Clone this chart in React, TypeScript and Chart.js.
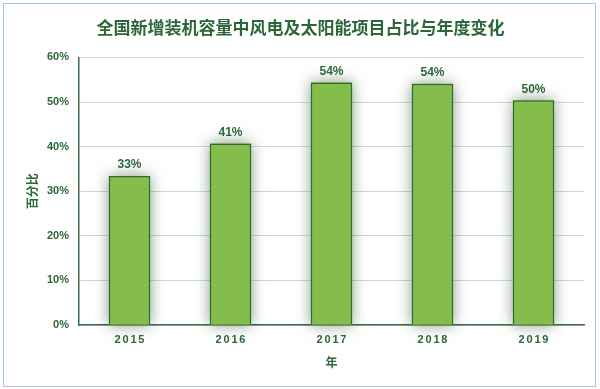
import React, { useEffect, useRef } from "react";
import { Chart, registerables } from "chart.js";

Chart.register(...registerables);

const TITLE = "全国新增装机容量中风电及太阳能项目占比与年度变化";
const YEARS = ["2015", "2016", "2017", "2018", "2019"];
const SHARES = [33.4, 40.7, 54.4, 54.1, 50.4];
const Y_TICKS_MAX = 60;
const Y_TITLE = "百分比";
const X_TITLE = "年";

const TEXT = "#2c6639";
const BAR = "#84bd4b";
const FONT = "'Liberation Sans', 'Noto Sans CJK SC', sans-serif";

const customPlugin = {
  id: "custom",
  beforeDatasetsDraw(chart: any) {
    const ctx = chart.ctx;
    const meta = chart.getDatasetMeta(0);
    ctx.save();
    ctx.shadowColor = "rgba(30,70,30,0.55)";
    ctx.shadowBlur = 14;
    ctx.shadowOffsetX = 0;
    ctx.shadowOffsetY = 0;
    ctx.fillStyle = BAR;
    meta.data.forEach((bar: any) => {
      const w = bar.width;
      ctx.fillRect(bar.x - w / 2, bar.y, w, bar.base - bar.y);
    });
    ctx.restore();
  },
  afterDatasetsDraw(chart: any) {
    const ctx = chart.ctx;
    const meta = chart.getDatasetMeta(0);
    ctx.save();
    ctx.fillStyle = TEXT;
    ctx.font = `bold 12px ${FONT}`;
    ctx.textAlign = "center";
    ctx.textBaseline = "bottom";
    meta.data.forEach((bar: any, i: number) => {
      const v = chart.data.datasets[0].data[i] as number;
      ctx.fillText(Math.round(v) + "%", bar.x, bar.y - 5);
    });
    ctx.restore();
  },
  afterDraw(chart: any) {
    const ctx = chart.ctx;
    const xs = chart.scales.x;
    ctx.save();
    ctx.fillStyle = TEXT;
    ctx.font = `bold 17px ${FONT}`;
    ctx.textAlign = "center";
    ctx.textBaseline = "middle";
    ctx.fillText(TITLE, 300.5, 29);
    ctx.font = `bold 11px ${FONT}`;
    (ctx as any).letterSpacing = "1.8px";
    YEARS.forEach((y, i) => {
      ctx.fillText(y, xs.getPixelForValue(i) + 0.9, chart.chartArea.bottom + 15);
    });
    ctx.restore();
  },
};

export default function App() {
  const ref = useRef<HTMLCanvasElement>(null);
  useEffect(() => {
    document.body.style.margin = "0";
    const chart = new Chart(ref.current!, {
      type: "bar",
      data: {
        labels: YEARS,
        datasets: [
          {
            data: SHARES,
            backgroundColor: BAR,
            borderColor: "#2f6b3a",
            borderWidth: 1.5,
            categoryPercentage: 1,
            barPercentage: 0.41,
          },
        ],
      },
      options: {
        animation: false,
        responsive: false,
        maintainAspectRatio: false,
        layout: { padding: { left: 4, right: 16, top: 0, bottom: 14 } },
        plugins: {
          legend: { display: false },
          tooltip: { enabled: false },
          title: {
            display: true,
            text: TITLE,
            color: "rgba(0,0,0,0)",
            font: { family: FONT, size: 17, weight: "bold" },
            padding: { top: 22, bottom: 15 },
          },
        },
        scales: {
          x: {
            grid: { display: false, drawTicks: false },
            border: { color: "#3d6b45", width: 1.5 },
            ticks: {
              color: "rgba(0,0,0,0)",
              font: { family: FONT, size: 11, weight: "bold" },
              padding: 9,
            },
            title: {
              display: true,
              text: X_TITLE,
              color: TEXT,
              font: { family: FONT, size: 12, weight: "bold" },
              padding: { top: 2, bottom: 4 },
            },
            afterFit(scale: any) {
              scale.height = 50;
            },
          },
          y: {
            min: 0,
            max: Y_TICKS_MAX,
            grid: { color: "#cddbcd", lineWidth: 1, drawTicks: false },
            border: { color: "#3d6b45", width: 1.5 },
            ticks: {
              stepSize: 10,
              color: TEXT,
              font: { family: FONT, size: 11, weight: "bold" },
              padding: 10,
              callback: (v: any) => v + "%",
            },
            title: {
              display: true,
              text: Y_TITLE,
              color: TEXT,
              font: { family: FONT, size: 12, weight: "bold" },
              padding: { top: 22, bottom: 0 },
            },
            afterFit(scale: any) {
              scale.width = 75;
            },
          },
        },
      },
      plugins: [customPlugin],
    });
    return () => chart.destroy();
  }, []);
  return (
    <div style={{ position: "relative", width: 600, height: 389, background: "#fff" }}>
      <canvas ref={ref} width={600} height={389} style={{ display: "block" }} />
      <div
        style={{
          position: "absolute",
          left: 3,
          top: 3,
          width: 591,
          height: 382,
          border: "1.5px solid #a3c2f5",
          pointerEvents: "none",
        }}
      />
    </div>
  );
}
